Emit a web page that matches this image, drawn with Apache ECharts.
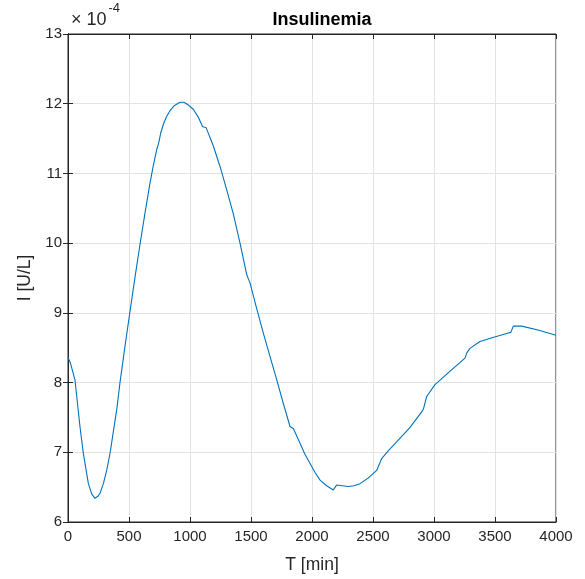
<!DOCTYPE html>
<html>
<head>
<meta charset="utf-8">
<script src="https://cdn.jsdelivr.net/npm/echarts@6/dist/echarts.min.js"></script>
<style>html,body{margin:0;padding:0;background:#fff}#c{width:585px;height:579px}</style>
</head>
<body>
<div id="c"></div>
<script>
// Time in minutes
const tData = [0, 20, 57, 98, 126, 167, 195, 221, 245, 262, 290, 317, 345, 372, 400, 426, 467, 508, 550, 590, 630, 672, 700, 727, 745, 760, 785, 809, 836, 870, 918, 950, 980, 1027, 1070, 1104, 1131, 1190, 1246, 1300, 1355, 1410, 1465, 1480, 1492, 1545, 1601, 1655, 1711, 1765, 1820, 1847, 1902, 1940, 1984, 2025, 2066, 2120, 2175, 2190, 2202, 2250, 2297, 2345, 2393, 2460, 2530, 2550, 2571, 2630, 2694, 2800, 2899, 2913, 2940, 3008, 3130, 3254, 3270, 3295, 3377, 3490, 3609, 3630, 3650, 3719, 3860, 4000];
// Insulinemia in units of 1e-4 U/L
const iData = [8.36, 8.28, 8.04, 7.37, 6.98, 6.55, 6.40, 6.34, 6.37, 6.41, 6.55, 6.74, 6.99, 7.30, 7.62, 8.00, 8.52, 9.02, 9.52, 9.98, 10.42, 10.86, 11.12, 11.34, 11.45, 11.58, 11.72, 11.82, 11.90, 11.97, 12.02, 12.02, 11.99, 11.92, 11.80, 11.67, 11.66, 11.40, 11.10, 10.77, 10.42, 10.00, 9.55, 9.48, 9.43, 9.07, 8.71, 8.38, 8.04, 7.70, 7.37, 7.34, 7.13, 6.98, 6.84, 6.71, 6.60, 6.52, 6.46, 6.45, 6.53, 6.52, 6.51, 6.52, 6.55, 6.63, 6.74, 6.82, 6.91, 7.03, 7.15, 7.35, 7.58, 7.62, 7.80, 7.97, 8.16, 8.35, 8.43, 8.49, 8.59, 8.65, 8.71, 8.72, 8.81, 8.81, 8.75, 8.68];
const xTicks = [0, 500, 1000, 1500, 2000, 2500, 3000, 3500, 4000];
const yTicks = [6, 7, 8, 9, 10, 11, 12, 13];

const chart = echarts.init(document.getElementById('c'), null, {renderer: 'canvas'});
const FONT = 'Liberation Sans, Arial, Helvetica, sans-serif';
const AX = '#262626';
const pts = tData.map((t, i) => [t, iData[i]]);
chart.setOption({
  animation: false,
  backgroundColor: '#fff',
  graphic: [
    {type: 'text', style: {x: 322, y: 20.5, text: 'Insulinemia', textAlign: 'center', textVerticalAlign: 'middle',
      font: 'bold 18px ' + FONT, fill: '#000'}},
    {type: 'text', style: {x: 71, y: 20, text: '× 10', textAlign: 'left', textVerticalAlign: 'middle',
      font: '18px ' + FONT, fill: AX}},
    {type: 'text', style: {x: 108.5, y: 8, text: '-4', textAlign: 'left', textVerticalAlign: 'middle',
      font: '13px ' + FONT, fill: AX}}
  ],
  grid: {left: 68, right: 29, top: 34, bottom: 57, show: true, borderColor: AX, borderWidth: 1, backgroundColor: 'transparent'},
  xAxis: [{
    type: 'value', min: 0, max: 4000, interval: 500,
    name: 'T [min]', nameLocation: 'middle', nameGap: 34,
    nameTextStyle: {fontFamily: FONT, fontSize: 17.5, color: AX},
    axisLine: {show: true, lineStyle: {color: AX, width: 1}},
    axisTick: {show: true, inside: true, length: 5, lineStyle: {color: AX}},
    axisLabel: {fontFamily: FONT, fontSize: 15, color: AX, margin: 7, formatter: v => String(v)},
    splitLine: {show: true, lineStyle: {color: '#e3e3e3', width: 1}}
  }, {
    type: 'value', min: 0, max: 4000, interval: 500, position: 'top',
    axisLine: {show: true, lineStyle: {color: AX}},
    axisTick: {show: true, inside: true, length: 5, lineStyle: {color: AX}},
    axisLabel: {show: false}, splitLine: {show: false}
  }],
  yAxis: [{
    type: 'value', min: 6, max: 13, interval: 1,
    name: 'I [U/L]', nameLocation: 'middle', nameGap: 34, nameRotate: 90,
    nameTextStyle: {fontFamily: FONT, fontSize: 17.5, color: AX},
    axisLine: {show: true, lineStyle: {color: AX, width: 1}},
    axisTick: {show: true, inside: true, length: 5, lineStyle: {color: AX}},
    axisLabel: {fontFamily: FONT, fontSize: 15, color: AX, margin: 6},
    splitLine: {show: true, lineStyle: {color: '#e3e3e3', width: 1}}
  }, {
    type: 'value', min: 6, max: 13, interval: 1, position: 'right',
    axisLine: {show: true, lineStyle: {color: AX}},
    axisTick: {show: true, inside: true, length: 5, lineStyle: {color: AX}},
    axisLabel: {show: false}, splitLine: {show: false}
  }],
  series: [{
    type: 'line', data: pts, showSymbol: false, smooth: false,
    lineStyle: {color: '#0072BD', width: 1.1}, xAxisIndex: 0, yAxisIndex: 0
  }]
});
</script>
</body>
</html>
